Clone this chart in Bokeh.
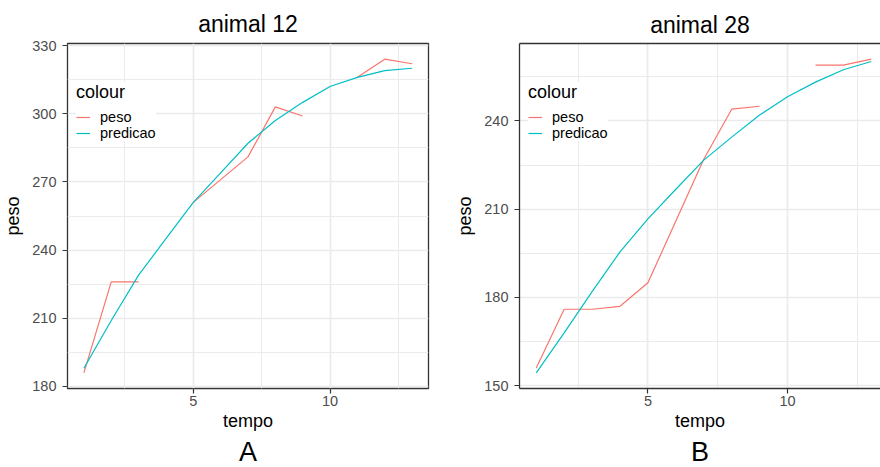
import numpy as np
from bokeh.plotting import figure
from bokeh.layouts import row
from bokeh.models import Legend, LegendItem, Title, Range1d, FixedTicker, LinearAxis
from bokeh.embed import file_html
from bokeh.resources import INLINE

nan = float("nan")

# ---- data ----
tempo = [1, 2, 3, 4, 5, 6, 7, 8, 9, 10, 11, 12, 13]
peso_12 = [186, 226, 226, nan, 261, 271, 281, 303, 299, nan, 316, 324, 322]
predicao_12 = [188, 209, 229, 245, 261, 274, 287, 297, 305, 312, 316, 319, 320]
peso_28 = [156, 176, 176, 177, 185, 206, 227, 244, 245, nan, 259, 259, 261]
predicao_28 = [154.4, 168, 182, 195.5, 206.7, 216.8, 226.7, 234.5, 242, 248.2, 253.2, 257.4, 260.2]

titles = ["animal 12", "animal 28"]
tags = ["A", "B"]
series_names = ["peso", "predicao"]
legend_title = "colour"
x_title = "tempo"
y_title = "peso"

x_major = [5, 10]
x_minor = [2.5, 7.5, 12.5]
y_major_12 = [180, 210, 240, 270, 300, 330]
y_minor_12 = [195, 225, 255, 285, 315]
y_major_28 = [150, 180, 210, 240]
y_minor_28 = [165, 195, 225, 255]

FONT = "Liberation Sans"
RED = "#F8766D"
CYAN = "#00BFC4"
GRID = "#EBEBEB"
DARK = "#333333"
TICKLAB = "#4D4D4D"

H = 467
TOP = 43
BOTTOM = 78


def panel(title, tag, peso, pred, y_major, y_minor, width, left, right,
          x_end=None, full_border=True, title_offset=0.0, title_standoff=8,
          tag_offset=0.0):
    vals = np.array(peso + pred, dtype=float)
    lo, hi = np.nanmin(vals), np.nanmax(vals)
    pad = 0.05 * (hi - lo)
    xlo, xhi = min(tempo), max(tempo)
    xpad = 0.05 * (xhi - xlo)
    xr = Range1d(xlo - xpad, x_end if x_end is not None else xhi + xpad)
    yr = Range1d(lo - pad, hi + pad)

    p = figure(width=width, height=H, x_range=xr, y_range=yr,
               output_backend="svg", toolbar_location=None,
               min_border_left=left, min_border_right=right,
               min_border_top=TOP, min_border_bottom=BOTTOM,
               background_fill_color="white", border_fill_color="white")

    p.title.text = title
    p.title.align = "center"
    p.title.offset = title_offset
    p.title.standoff = title_standoff
    p.title.text_font = FONT
    p.title.text_font_size = "23px"
    p.title.text_font_style = "normal"
    p.title.text_color = "black"

    xt = FixedTicker(ticks=x_major, minor_ticks=x_minor)
    yt = FixedTicker(ticks=y_major, minor_ticks=y_minor)
    p.xaxis.ticker = xt
    p.yaxis.ticker = yt
    p.xgrid.ticker = xt
    p.ygrid.ticker = yt

    for ax in (p.xaxis[0], p.yaxis[0]):
        ax.major_label_text_font = FONT
        ax.major_label_text_font_size = "14.5px"
        ax.major_label_text_color = TICKLAB
        ax.major_tick_out = 5
        ax.major_tick_in = 0
        ax.minor_tick_out = 0
        ax.minor_tick_in = 0
        ax.minor_tick_line_color = None
        ax.major_tick_line_color = DARK
        ax.major_tick_line_width = 1.2
        ax.axis_line_color = None if full_border else DARK
        ax.axis_line_width = 1.3
        ax.axis_label_text_font = FONT
        ax.axis_label_text_font_size = "18px"
        ax.axis_label_text_font_style = "normal"
        ax.axis_label_text_color = "black"
    p.xaxis.major_label_standoff = 2
    p.yaxis.major_label_standoff = 6
    p.xaxis.axis_label = x_title
    p.xaxis.axis_label_standoff = 2
    p.yaxis.axis_label = y_title
    p.yaxis.axis_label_standoff = 6

    for g in (p.xgrid[0], p.ygrid[0]):
        g.grid_line_color = GRID
        g.grid_line_width = 1.7
        g.minor_grid_line_color = GRID
        g.minor_grid_line_width = 1.0

    if full_border:
        p.outline_line_color = DARK
        p.outline_line_width = 1.3
    else:
        # panel is cut by the picture's right edge: border only on 3 sides
        p.outline_line_color = None
        top_ax = LinearAxis(ticker=FixedTicker(ticks=[]),
                            major_label_text_font_size="0px",
                            major_label_standoff=0,
                            axis_line_color=DARK, axis_line_width=1.3,
                            major_tick_line_color=None, minor_tick_line_color=None,
                            major_tick_out=0, major_tick_in=0)
        p.add_layout(top_ax, "above")

    r1 = p.line(tempo, peso, line_color=RED, line_width=1.2)
    r2 = p.line(tempo, pred, line_color=CYAN, line_width=1.2)

    leg = Legend(items=[LegendItem(label=series_names[0], renderers=[r1]),
                        LegendItem(label=series_names[1], renderers=[r2])],
                 location=(9, 247), title=legend_title,
                 title_text_font=FONT, title_text_font_size="18px",
                 title_text_font_style="normal", title_text_color="black",
                 title_standoff=6,
                 label_text_font=FONT, label_text_font_size="14.5px",
                 label_text_color="black",
                 glyph_width=14, glyph_height=14, label_height=14,
                 label_standoff=10, spacing=0, padding=7, margin=0,
                 background_fill_color="white", background_fill_alpha=1.0,
                 border_line_color=None)
    p.add_layout(leg)

    p.add_layout(Title(text=tag, align="center", offset=tag_offset, standoff=2,
                       text_font=FONT, text_font_size="27px",
                       text_font_style="normal", text_color="black"), "below")
    return p


pA = panel(titles[0], tags[0], peso_12, predicao_12, y_major_12, y_minor_12,
           width=440, left=63, right=12, title_offset=5, title_standoff=14,
           tag_offset=-2)
# the reference is cropped at the right edge: the visible x range ends near 13.33
pB = panel(titles[1], tags[1], peso_28, predicao_28, y_major_28, y_minor_28,
           width=440, left=79, right=0, x_end=13.33, full_border=False,
           title_offset=1, title_standoff=12)

layout = row(pA, pB)
open("out.html", "w").write(file_html(layout, INLINE))
